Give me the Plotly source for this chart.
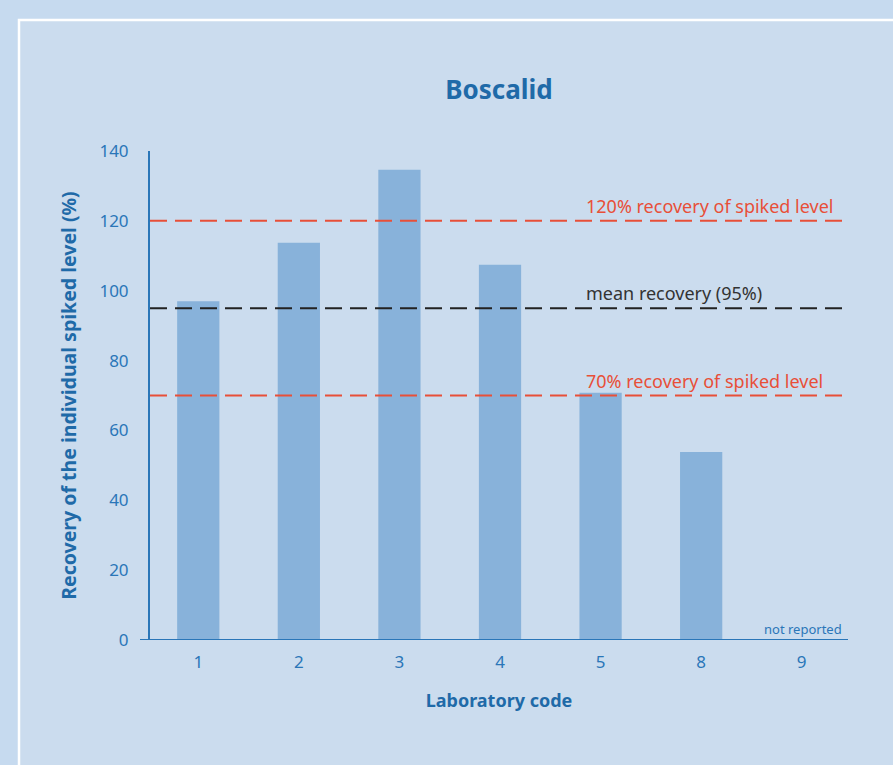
import plotly.graph_objects as go

labs = ["1", "2", "3", "4", "5", "8", "9"]
recovery = [97, 113.7, 134.6, 107.4, 70.8, 53.8, None]
mean_rec = 95
upper = 120
lower = 70
y_ticks = [0, 20, 40, 60, 80, 100, 120, 140]

BLUE = "#1f6aa8"
TICK = "#2a76b8"
RED = "#e84f38"
FONT = "Noto Sans"

fig = go.Figure()
fig.add_trace(go.Bar(x=labs, y=recovery, width=0.42,
                     marker=dict(color="#88b2da", line=dict(width=0)),
                     showlegend=False, hoverinfo="skip"))

W, H = 893, 765
L, R, T, B = 150, 45, 151, 125
pw = W - L - R
ph = H - T - B

# inner panel
fig.add_shape(type="rect", xref="paper", yref="paper",
              x0=(19 - L) / pw, x1=(W + 10 - L) / pw,
              y0=-(B + 20) / ph, y1=1 + (T - 20) / ph,
              fillcolor="#cbdcee", line=dict(color="white", width=2.5), layer="below")

for val, col in [(upper, RED), (mean_rec, "#222222"), (lower, RED)]:
    fig.add_shape(type="line", xref="paper", yref="y", x0=0, x1=1, y0=val, y1=val,
                  line=dict(color=col, width=2, dash="17px,8px"))

# x axis baseline extending left
fig.add_shape(type="line", xref="paper", yref="y", x0=-10 / pw, x1=1, y0=0, y1=0,
              line=dict(color=TICK, width=2))

ann_x = (584 - L) / pw
for val, txt, col in [(upper, "120% recovery of spiked level", RED),
                      (mean_rec, "mean recovery (95%)", "#333333"),
                      (lower, "70% recovery of spiked level", RED)]:
    fig.add_annotation(xref="paper", yref="y", x=ann_x, y=val, text=txt,
                       showarrow=False, xanchor="left", yanchor="bottom", yshift=1,
                       font=dict(family=FONT, size=18, color=col))
fig.add_annotation(xref="paper", yref="y", x=(844 - L) / pw, y=0, text="not reported",
                   showarrow=False, xanchor="right", yanchor="bottom", yshift=0,
                   font=dict(family=FONT, size=13, color=TICK))

fig.update_layout(
    width=W, height=H,
    margin=dict(l=L, r=R, t=T, b=B),
    paper_bgcolor="#c6daef",
    plot_bgcolor="rgba(0,0,0,0)",
    title=dict(text="<b>Boscalid</b>", x=0.5, xref="paper", y=1 - 90 / H, yref="container",
               xanchor="center", yanchor="middle",
               font=dict(family=FONT, size=26, color=BLUE)),
    font=dict(family=FONT, color=TICK),
    xaxis=dict(type="category", range=[-0.48, 6.46], showgrid=False, zeroline=False,
               showline=False, ticks="", tickfont=dict(size=17, color=TICK),
               ticklabelstandoff=10,
               title=dict(text="<b>Laboratory code</b>", font=dict(size=18, color=BLUE), standoff=22)),
    yaxis=dict(range=[0, 140], tickvals=y_ticks, showgrid=False, zeroline=False,
               showline=True, linecolor=TICK, linewidth=2, ticks="",
               tickfont=dict(size=17, color=TICK), ticklabelstandoff=16,
               title=dict(text="<b>Recovery of the individual spiked level (%)</b>",
                          font=dict(size=19.5, color=BLUE), standoff=18)),
)

fig.write_html("out.html", config={"displayModeBar": False},
               post_script="document.body.style.margin='0';document.body.style.background='#c6daef';")
